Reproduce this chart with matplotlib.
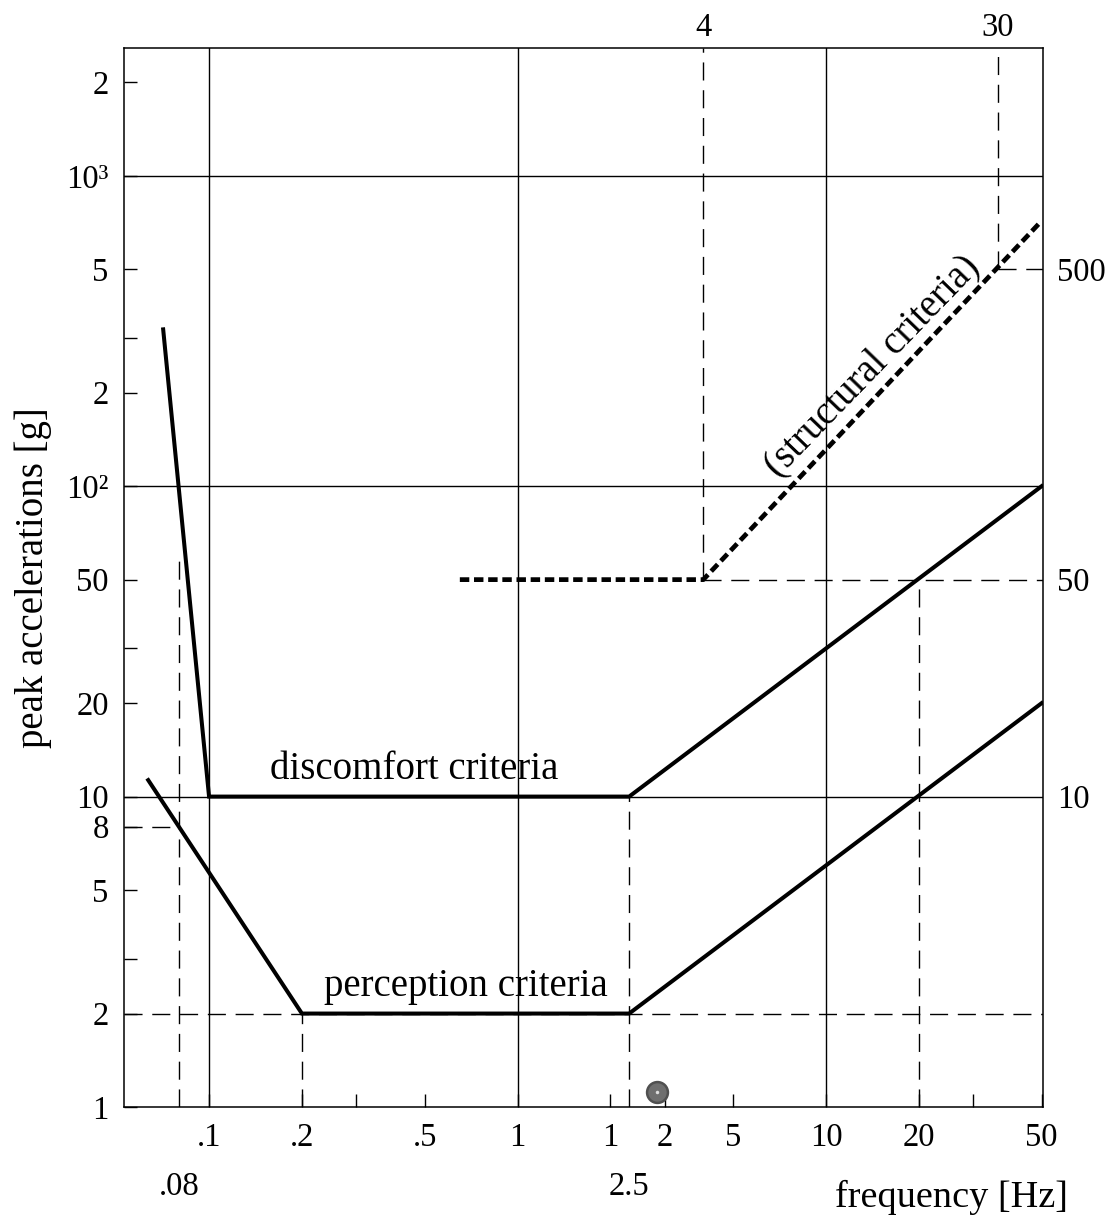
import matplotlib
matplotlib.use('Agg')
import matplotlib.pyplot as plt
from matplotlib.ticker import FixedLocator, FixedFormatter, NullLocator, NullFormatter

plt.rcParams['font.family'] = ['Liberation Serif', 'DejaVu Serif']

# ---------------- data ----------------
disc_f = [0.071, 0.1, 2.3, 50]
disc_g = [320, 10, 10, 100]
perc_f = [0.0635, 0.2, 2.3, 50]
perc_g = [11.3, 2, 2, 20]
struct_f = [0.65, 4, 50]
struct_g = [50, 50, 716]

grid_f = [0.1, 1, 10]
grid_g = [10, 100, 1000]

x_major = [0.1, 0.2, 0.5, 1, 2, 3, 5, 10, 20, 50]
x_major_labels = ['.1', '.2', '.5', '1', '1', '2', '5', '10', '20', '50']
x_minor = [0.3, 30]
y_major = [1, 2, 5, 8, 10, 20, 50, 100, 200, 500, 1000, 2000]
y_major_labels = ['1', '2', '5', '8', '10', '20', '50', '10²', '2', '5', '10³', '2']
y_minor = [3, 30, 300]
right_ticks = [10, 50, 500]
right_labels = ['10', '50', '500']
top_ticks = [4, 36]
top_labels = ['4', '30']
bottom2_ticks = [0.08, 2.3]
bottom2_labels = ['.08', '2.5']
marker_f = [2.84]
marker_g = [1.12]

f_lo, f_hi = 0.053, 50.5
g_lo, g_hi = 1, 2580

TICK_FS = 23.5

# ---------------- figure ----------------
W, H = 1115, 1220
fig = plt.figure(figsize=(W / 100, H / 100), dpi=100)
ax = fig.add_axes([124 / W, 1 - 1107 / H, (1043 - 124) / W, (1107 - 48) / H])
ax.set_xscale('log')
ax.set_yscale('log')
ax.set_xlim(f_lo, f_hi)
ax.set_ylim(g_lo, g_hi)

for s in ax.spines.values():
    s.set_linewidth(1.1)

# solid grid lines
for f in grid_f:
    ax.axvline(f, color='black', lw=1.0, zorder=1)
for g in grid_g:
    ax.axhline(g, color='black', lw=1.0, zorder=1)

# dashed guide lines
dkw = dict(color='black', lw=1.0, dashes=(13, 7), zorder=2)
ax.plot([f_lo, f_hi], [2, 2], **dkw)
ax.plot([f_lo, 0.08], [8, 8], **dkw)
ax.plot([0.08, 0.08], [g_lo, 60], **dkw)
ax.plot([0.2, 0.2], [g_lo, 2], **dkw)
ax.plot([2.3, 2.3], [g_lo, 10], **dkw)
ax.plot([20, 20], [g_lo, 50], **dkw)
ax.plot([4, f_hi], [50, 50], **dkw)
ax.plot([4, 4], [50, g_hi], **dkw)
ax.plot([36, 36], [500, g_hi], **dkw)
ax.plot([36, f_hi], [500, 500], **dkw)

# criteria curves
ax.plot(disc_f, disc_g, color='black', lw=2.9, solid_joinstyle='miter', zorder=4)
ax.plot(perc_f, perc_g, color='black', lw=2.9, solid_joinstyle='miter', zorder=4)
ax.plot(struct_f, struct_g, color='black', lw=3.4, dashes=(2.0, 1.0),
        dash_capstyle='butt', zorder=4)

# grey dot
ax.plot(marker_f, marker_g, 'o', ms=15, mfc='#6f6f6f', mec='#505050', mew=1.8, zorder=5)
ax.plot(marker_f, marker_g, 'o', ms=2.5, mfc='#dddddd', mec='none', zorder=6)

# ticks
ax.xaxis.set_major_locator(FixedLocator(x_major))
ax.xaxis.set_major_formatter(FixedFormatter(x_major_labels))
ax.xaxis.set_minor_locator(FixedLocator(x_minor))
ax.xaxis.set_minor_formatter(NullFormatter())
ax.yaxis.set_major_locator(FixedLocator(y_major))
ax.yaxis.set_major_formatter(FixedFormatter(y_major_labels))
ax.yaxis.set_minor_locator(FixedLocator(y_minor))
ax.yaxis.set_minor_formatter(NullFormatter())
ax.tick_params(axis='both', which='both', direction='in', top=True, right=True,
               length=9.5, width=1.0, labelsize=TICK_FS)
ax.tick_params(axis='x', which='major', pad=11)
ax.tick_params(axis='y', which='major', pad=11)

# right labels
ax_r = ax.twinx()
ax_r.set_yscale('log')
ax_r.set_ylim(g_lo, g_hi)
ax_r.yaxis.set_major_locator(FixedLocator(right_ticks))
ax_r.yaxis.set_major_formatter(FixedFormatter(right_labels))
ax_r.yaxis.set_minor_locator(NullLocator())
ax_r.tick_params(axis='y', which='both', length=0, pad=10, labelsize=TICK_FS)
for s in ax_r.spines.values():
    s.set_visible(False)

# top labels
ax_t = ax.twiny()
ax_t.set_xscale('log')
ax_t.set_xlim(f_lo, f_hi)
ax_t.xaxis.set_major_locator(FixedLocator(top_ticks))
ax_t.xaxis.set_major_formatter(FixedFormatter(top_labels))
ax_t.xaxis.set_minor_locator(NullLocator())
ax_t.tick_params(axis='x', which='both', length=0, pad=3.5, labelsize=TICK_FS)
for s in ax_t.spines.values():
    s.set_visible(False)

# second row of bottom labels
for f, lab in zip(bottom2_ticks, bottom2_labels):
    ax.text(f, -0.0831, lab, transform=ax.get_xaxis_transform(), ha='center',
            va='baseline', fontsize=TICK_FS)

# annotations
ax.text(0.158, 11.4, 'discomfort criteria', fontsize=28, ha='left', va='baseline', zorder=6)
ax.text(0.236, 2.27, 'perception criteria', fontsize=28, ha='left', va='baseline', zorder=6)
ax.text(14.1, 244, '(structural criteria)', fontsize=28, ha='center', va='center',
        rotation=46, rotation_mode='anchor', zorder=6)

# axis labels
ax.set_ylabel('peak accelerations [g]', fontsize=28)
ax.yaxis.set_label_coords(-0.078, 0.5)
ax.set_xlabel('frequency [Hz]', fontsize=27.5)
ax.xaxis.set_label_coords(0.9, -0.0944)
ax.xaxis.label.set_va('baseline')

fig.savefig('out.png', dpi=100)
